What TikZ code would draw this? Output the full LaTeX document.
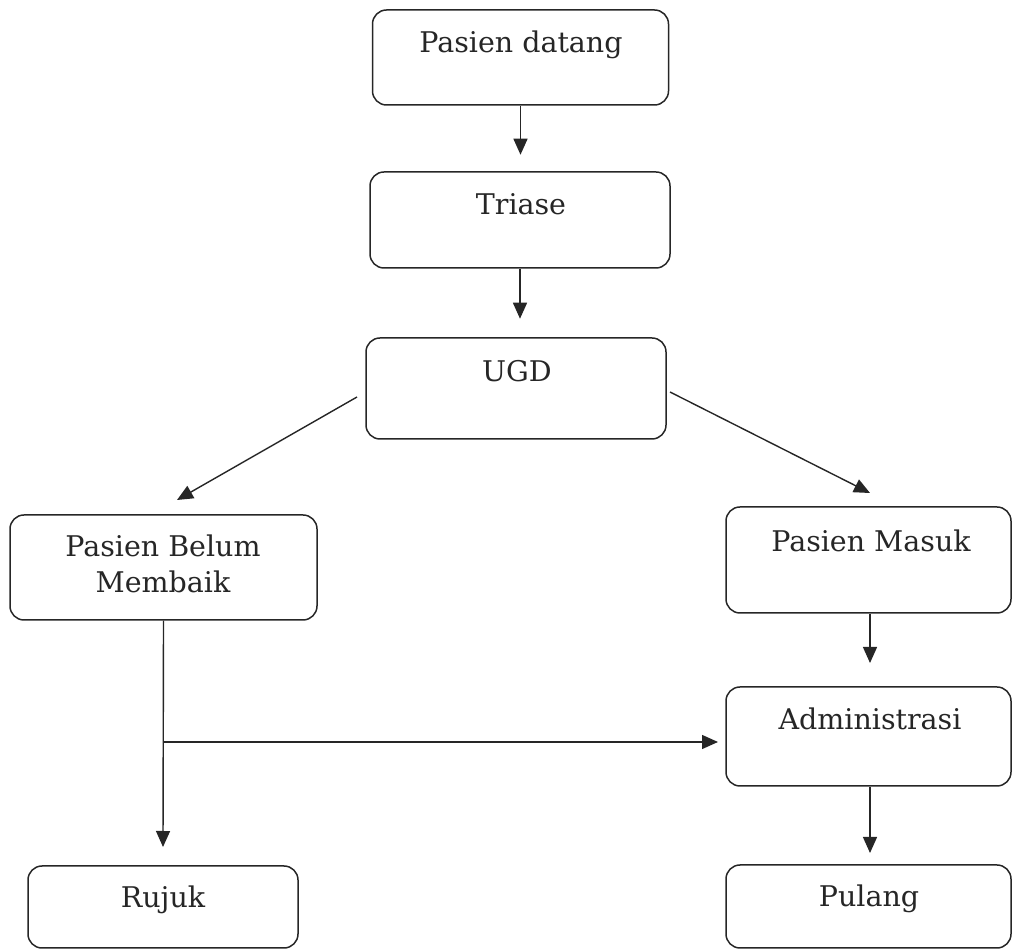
\documentclass[tikz,border=0pt]{standalone}
\usepackage{fontspec}
\setmainfont{DejaVu Serif}
\usetikzlibrary{arrows.meta,calc}
\definecolor{ink}{HTML}{262626}
\tikzset{
  box/.style={draw=ink, line width=1.5pt, rounded corners=14pt, inner sep=0pt},
  lbl/.style={anchor=base, text=ink, font=\fontsize{28.5}{33}\selectfont, inner sep=0pt, align=center},
  conn/.style={draw=ink, line width=1.4pt},
  arr/.style={conn, -{Triangle[width=14pt,length=16pt]}},
}
\begin{document}
\begin{tikzpicture}[x=1pt,y=1pt]
\useasboundingbox (0,0) rectangle (1012,950);
% boxes (y measured upward: Y = 950 - y)
\node[box, minimum width=296pt, minimum height=95pt] (datang) at (520.5,892.5) {};
\node[box, minimum width=300pt, minimum height=96pt] (triase) at (520,730) {};
\node[box, minimum width=300pt, minimum height=101pt] (ugd) at (516,561.5) {};
\node[box, minimum width=307pt, minimum height=105pt] (belum) at (163.5,382.5) {};
\node[box, minimum width=285pt, minimum height=106pt] (masuk) at (868.5,390) {};
\node[box, minimum width=285pt, minimum height=99pt] (admin) at (868.5,213.5) {};
\node[box, minimum width=270pt, minimum height=82pt] (rujuk) at (163,43) {};
\node[box, minimum width=285pt, minimum height=83pt] (pulang) at (868.5,43.5) {};
% texts
\node[lbl] (tdatang) at (521,897) {Pasien datang};
\node[lbl] (ttriase) at (521,735) {Triase};
\node[lbl] (tugd) at (517,568) {UGD};
\node[lbl] (tbelum1) at (163,393) {Pasien Belum};
\node[lbl] (tbelum2) at (163,357) {Membaik};
\node[lbl] (tmasuk) at (871,398) {Pasien Masuk};
\node[lbl] (tadmin) at (870,220) {Administrasi};
\node[lbl] (trujuk) at (163,42) {Rujuk};
\node[lbl] (tpulang) at (869,43) {Pulang};
% connector end points
\coordinate (a1) at ($(datang.south)+(0,-49)$);
\coordinate (a2) at ($(triase.south)+(0,-50)$);
\coordinate (uL) at (357,553);
\coordinate (uLt) at (177,450);
\coordinate (uR) at (670,558);
\coordinate (uRt) at (870,457);
\coordinate (a5) at (870,287);
\coordinate (a6) at (870,97);
\coordinate (jn) at (163,208);
\coordinate (a7) at (163,103);
\coordinate (a8) at (718,208);
% connectors
\draw[arr] (datang.south) -- (a1);
\draw[arr] (triase.south) -- (a2);
\draw[arr] (uL) -- (uLt);
\draw[arr] (uR) -- (uRt);
\draw[arr] (masuk.south -| a5) -- (a5);
\draw[arr] (admin.south -| a6) -- (a6);
\draw[arr] (belum.south) -- (a7);
\draw[arr] (jn) -- (a8);
\end{tikzpicture}
\end{document}
